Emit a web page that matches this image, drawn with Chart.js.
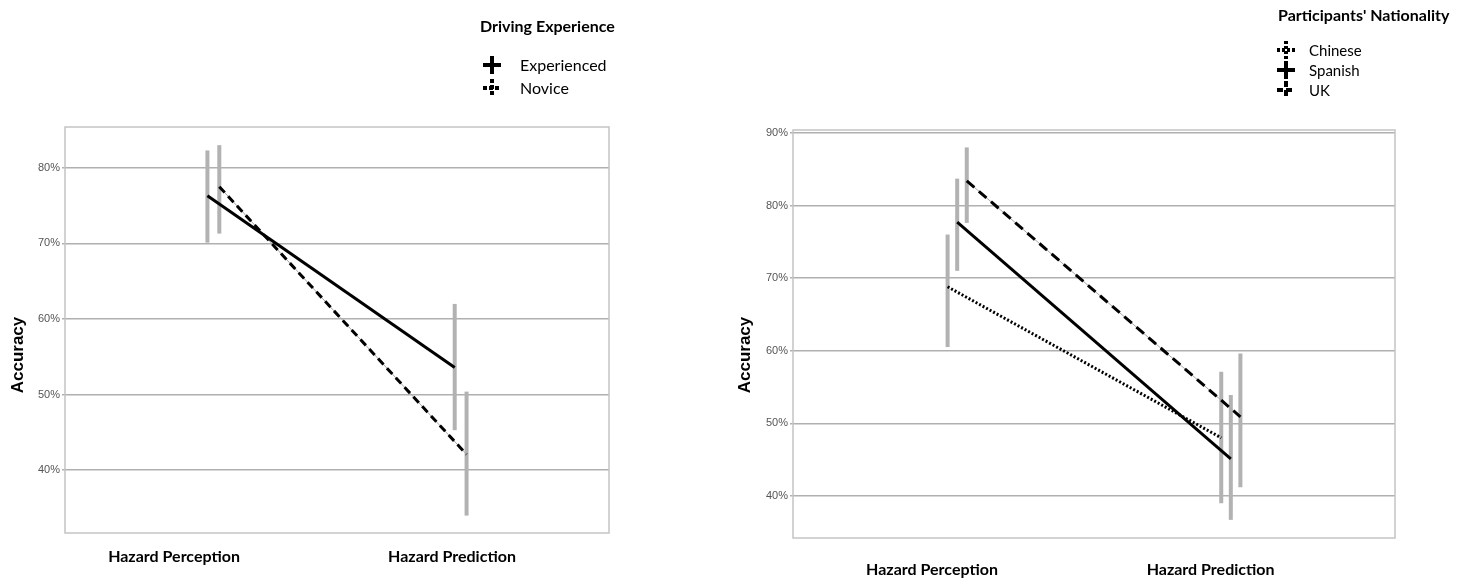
<!DOCTYPE html>
<html>
<head>
<meta charset="utf-8">
<script src="https://cdn.jsdelivr.net/npm/chart.js@4"></script>
<style>
  body { margin: 0; background: #fff; }
  .box { position: absolute; top: 0; height: 578px; }
  #leftBox { left: 0; width: 650px; }
  #rightBox { left: 690px; width: 779px; }
</style>
</head>
<body>
<div class="box" id="leftBox"><canvas id="chartExperience"></canvas></div>
<div class="box" id="rightBox"><canvas id="chartNationality"></canvas></div>
<script>
// x axis categories
const categories = ["Hazard Perception", "Hazard Prediction"];

// left chart - driving experience (accuracy %, mean and error bar ends)
const experiencedMean = [76.3, 53.6];
const experiencedLow = [70.1, 45.3];
const experiencedHigh = [82.3, 62.0];
const noviceMean = [77.5, 42.1];
const noviceLow = [71.3, 34.0];
const noviceHigh = [83.0, 50.4];

// right chart - participants' nationality
const chineseMean = [68.8, 48.0];
const chineseLow = [60.5, 39.0];
const chineseHigh = [76.0, 57.1];
const spanishMean = [77.7, 45.1];
const spanishLow = [71.0, 36.7];
const spanishHigh = [83.7, 53.9];
const ukMean = [83.4, 50.9];
const ukLow = [77.6, 41.2];
const ukHigh = [88.0, 59.6];

// y tick labels
const leftTicks = [40, 50, 60, 70, 80];
const rightTicks = [40, 50, 60, 70, 80, 90];

const LABEL_FONT = "Lato, 'Open Sans', sans-serif";

// line for one series, shifted a little sideways from the category
function meanLine(label, mean, shift, style) {
  return Object.assign({
    label: label,
    data: mean.map((v, i) => ({ x: i + shift, y: v })),
    borderColor: "#000",
    borderWidth: 3,
    pointRadius: 0,
    showInLegend: true,
  }, style);
}

// thin grey line under the dashed ones
function greyUnder(mean, shift) {
  return {
    data: mean.map((v, i) => ({ x: i + shift, y: v })),
    borderColor: "#a8a8a8",
    borderWidth: 1,
    pointRadius: 0,
  };
}

// vertical grey error bars
function errorBars(low, high, shift) {
  return low.map((lo, i) => ({
    data: [{ x: i + shift, y: lo }, { x: i + shift, y: high[i] }],
    borderColor: "#b2b2b2",
    borderWidth: 4,
    borderCapStyle: "butt",
    pointRadius: 0,
  }));
}

// frame around the plot area
const plotFrame = {
  id: "plotFrame",
  beforeDatasetsDraw(chart) {
    const a = chart.chartArea;
    const ctx = chart.ctx;
    ctx.save();
    ctx.strokeStyle = "#c4c4c4";
    ctx.lineWidth = 1.5;
    ctx.strokeRect(a.left, a.top, a.right - a.left, a.bottom - a.top);
    ctx.restore();
  },
};

// legend with cross symbols + the y title
const crossLegend = {
  id: "crossLegend",
  afterDraw(chart, args, o) {
    const ctx = chart.ctx;
    ctx.save();
    ctx.fillStyle = "#000";
    ctx.textBaseline = "middle";
    ctx.textAlign = "left";
    ctx.font = "bold " + o.titleSize + "px " + LABEL_FONT;
    ctx.fillText(o.title, o.titleX, o.titleY);
    ctx.font = o.itemSize + "px " + LABEL_FONT;
    chart.data.datasets.filter(d => d.showInLegend).forEach((d, i) => {
      const cy = o.itemY + i * o.rowGap;
      const cx = o.symbolX;
      ctx.strokeStyle = "#000";
      ctx.lineWidth = 4;
      ctx.setLineDash(d.legendDash || []);
      ctx.beginPath();
      ctx.moveTo(cx - o.half, cy);
      ctx.lineTo(cx + o.half, cy);
      ctx.moveTo(cx, cy - o.half);
      ctx.lineTo(cx, cy + o.half);
      ctx.stroke();
      ctx.setLineDash([]);
      ctx.fillText(d.label, o.textX, cy + 1);
    });
    ctx.translate(o.yTitleX, o.yTitleY);
    ctx.rotate(-Math.PI / 2);
    ctx.textAlign = "center";
    ctx.font = "bold 17px 'Liberation Sans', Arial, sans-serif";
    ctx.fillText("Accuracy", 0, 0);
    ctx.restore();
  },
};

function makeOptions(cfg) {
  return {
    responsive: true,
    maintainAspectRatio: false,
    animation: false,
    layout: { padding: cfg.padding },
    plugins: {
      legend: { display: false },
      tooltip: { enabled: false },
      crossLegend: cfg.legend,
    },
    scales: {
      x: {
        type: "linear",
        min: -0.6,
        max: 1.6,
        border: { display: false },
        grid: { display: false, drawTicks: false },
        afterBuildTicks: s => { s.ticks = cfg.labelAt.map(v => ({ value: v })); },
        afterFit: s => { s.height = cfg.xHeight; },
        ticks: {
          autoSkip: false,
          maxRotation: 0,
          padding: cfg.labelPad,
          color: "#000",
          font: { family: LABEL_FONT, size: 16, weight: "bold" },
          callback: (v, i) => categories[i],
        },
      },
      y: {
        min: cfg.yMin,
        max: cfg.yMax,
        border: { display: false },
        grid: { color: "#b0b0b0", lineWidth: 1.5, tickLength: 3 },
        afterBuildTicks: s => { s.ticks = cfg.yTicks.map(v => ({ value: v })); },
        afterFit: s => { s.width = cfg.yWidth; },
        ticks: {
          padding: 2,
          color: "#555",
          font: { family: "'Liberation Sans', Arial, sans-serif", size: 11 },
          callback: v => v + "%",
        },
      },
    },
  };
}

// left chart
new Chart(document.getElementById("chartExperience"), {
  type: "line",
  data: {
    datasets: [
      meanLine("Experienced", experiencedMean, -0.024, {}),
      meanLine("Novice", noviceMean, 0.024, { borderDash: [8, 5], legendDash: [4, 2] }),
      greyUnder(noviceMean, 0.024),
      ...errorBars(experiencedLow, experiencedHigh, -0.024),
      ...errorBars(noviceLow, noviceHigh, 0.024),
    ],
  },
  options: makeOptions({
    padding: { left: 0, right: 41, top: 127, bottom: 0 },
    xHeight: 45,
    yWidth: 65,
    yMin: 31.7,
    yMax: 85.4,
    yTicks: leftTicks,
    labelAt: [-0.159, 0.965],
    labelPad: 14,
    legend: {
      title: "Driving Experience", titleX: 480, titleY: 27, titleSize: 16,
      symbolX: 492, half: 9, itemY: 65, rowGap: 23, textX: 520, itemSize: 16,
      yTitleX: 18, yTitleY: 355,
    },
  }),
  plugins: [plotFrame, crossLegend],
});

// right chart
new Chart(document.getElementById("chartNationality"), {
  type: "line",
  data: {
    datasets: [
      meanLine("Chinese", chineseMean, -0.035, { borderDash: [2, 2], legendDash: [3, 2] }),
      meanLine("Spanish", spanishMean, 0, {}),
      meanLine("UK", ukMean, 0.035, { borderDash: [10, 6], legendDash: [6, 3] }),
      greyUnder(ukMean, 0.035),
      ...errorBars(chineseLow, chineseHigh, -0.035),
      ...errorBars(spanishLow, spanishHigh, 0),
      ...errorBars(ukLow, ukHigh, 0.035),
    ],
  },
  options: makeOptions({
    padding: { left: 0, right: 74, top: 130, bottom: 0 },
    xHeight: 40,
    yWidth: 103,
    yMin: 34.2,
    yMax: 90.4,
    yTicks: rightTicks,
    labelAt: [-0.092, 0.926],
    labelPad: 22,
    legend: {
      title: "Participants' Nationality", titleX: 588, titleY: 16, titleSize: 16,
      symbolX: 596, half: 9, itemY: 50, rowGap: 20, textX: 619, itemSize: 15,
      yTitleX: 55, yTitleY: 355,
    },
  }),
  plugins: [plotFrame, crossLegend],
});
</script>
</body>
</html>
